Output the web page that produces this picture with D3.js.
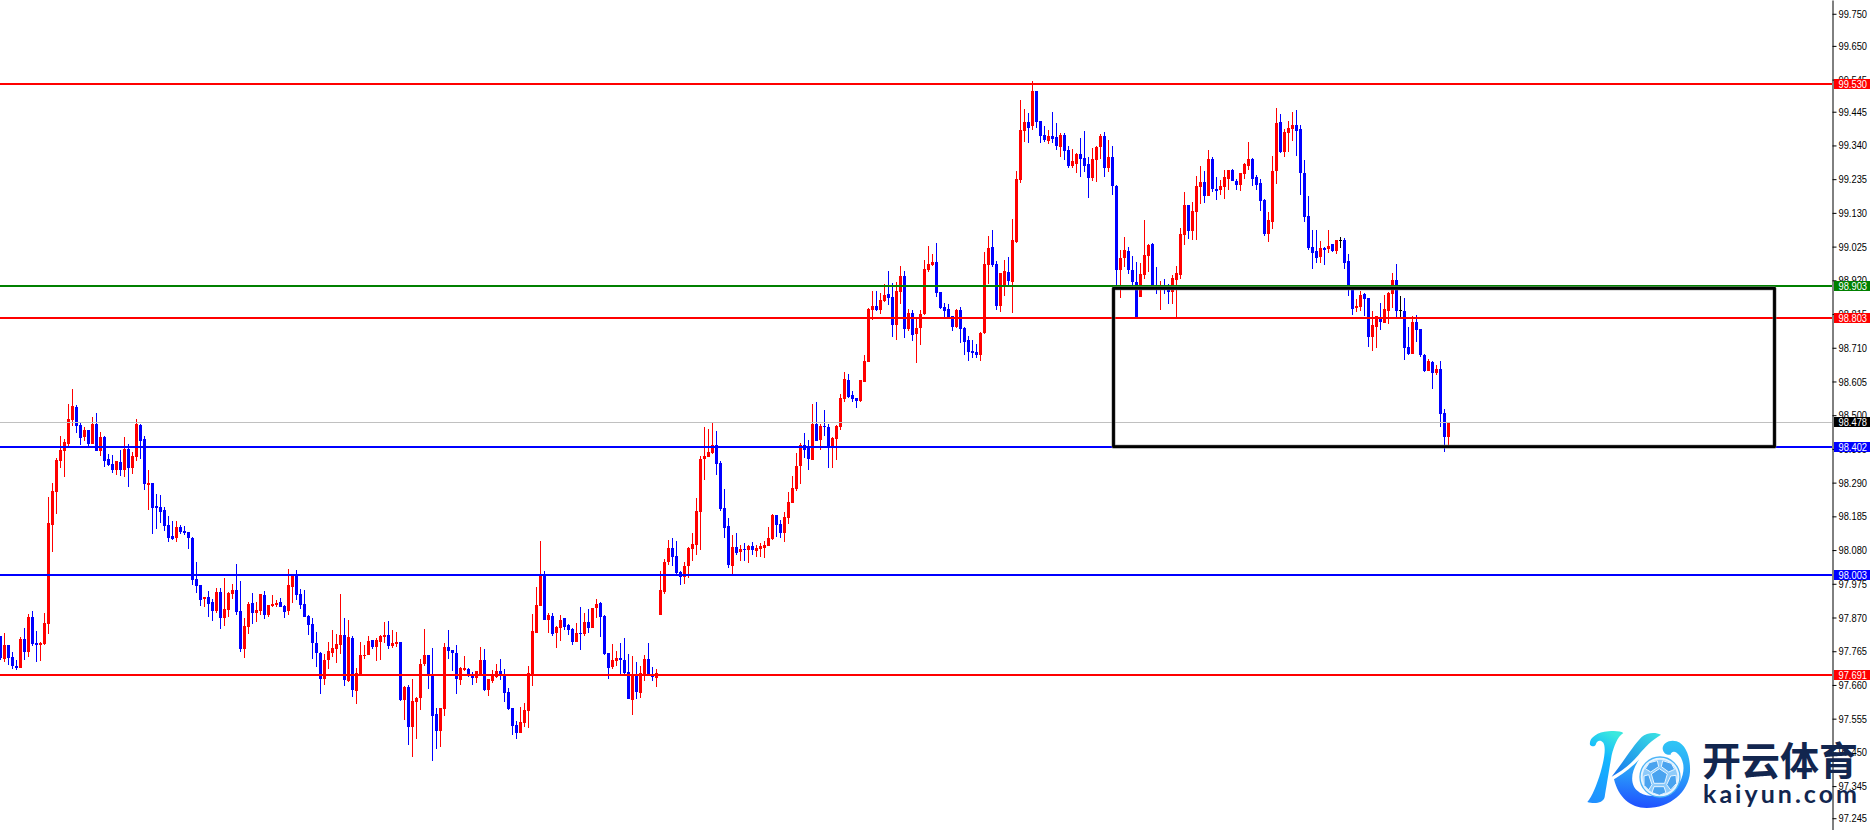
<!DOCTYPE html>
<html>
<head>
<meta charset="utf-8">
<script src="https://cdn.jsdelivr.net/npm/d3@7"></script>
<style>
    html, body { margin: 0; padding: 0; background: #fff; overflow: hidden; }
    svg { display: block; }
</style>
</head>
<body>
<svg width="1872" height="830"></svg>
<script>
//// CANDLESTICK CHART WITH PRICE LEVELS ////

var opens = [
97.811,97.740,97.785,97.747,97.719,97.714,97.803,97.763,97.872,97.791,
97.785,97.788,97.850,98.158,98.261,98.358,98.389,98.411,98.485,98.526,
98.470,98.432,98.454,98.411,98.473,98.389,98.432,98.364,98.348,98.330,
98.355,98.330,98.395,98.336,98.370,98.470,98.426,98.283,98.289,98.218,
98.214,98.205,98.158,98.124,98.118,98.152,98.140,98.137,98.119,97.990,
97.971,97.928,97.934,97.919,97.891,97.950,97.869,97.894,97.943,97.956,
97.891,97.772,97.841,97.915,97.884,97.891,97.940,97.878,97.906,97.909,
97.919,97.906,97.891,97.965,98.006,97.943,97.912,97.875,97.850,97.791,
97.760,97.679,97.738,97.760,97.773,97.785,97.816,97.673,97.807,97.642,
97.692,97.751,97.754,97.801,97.779,97.794,97.810,97.816,97.782,97.788,
97.794,97.614,97.654,97.530,97.608,97.620,97.726,97.754,97.695,97.570,
97.517,97.586,97.779,97.769,97.760,97.676,97.707,97.710,97.695,97.682,
97.695,97.738,97.645,97.673,97.685,97.704,97.695,97.639,97.589,97.536,
97.511,97.542,97.580,97.692,97.822,97.906,98.003,97.863,97.875,97.822,
97.838,97.869,97.847,97.835,97.794,97.822,97.819,97.857,97.838,97.900,
97.916,97.875,97.760,97.717,97.735,97.745,97.738,97.701,97.614,97.692,
97.636,97.692,97.741,97.692,97.682,97.878,97.950,98.043,98.087,98.062,
98.012,97.997,98.031,98.084,98.096,98.199,98.364,98.370,98.383,98.408,
98.352,98.211,98.155,98.031,98.090,98.074,98.084,98.081,98.093,98.078,
98.084,98.087,98.093,98.115,98.190,98.162,98.134,98.180,98.227,98.271,
98.342,98.408,98.404,98.361,98.473,98.423,98.467,98.464,98.401,98.426,
98.464,98.551,98.610,98.563,98.554,98.545,98.604,98.666,98.828,98.840,
98.828,98.856,98.878,98.868,98.781,98.884,98.934,98.769,98.819,98.753,
98.772,98.815,98.952,98.968,98.977,98.884,98.837,98.831,98.809,98.775,
98.828,98.772,98.734,98.700,98.697,98.688,98.756,98.968,99.024,98.971,
98.841,98.903,98.947,98.916,99.040,99.233,99.386,99.414,99.399,99.511,
99.417,99.374,99.355,99.370,99.367,99.336,99.374,99.327,99.277,99.283,
99.314,99.302,99.283,99.240,99.296,99.336,99.370,99.271,99.305,99.215,
98.953,98.991,99.012,98.953,98.916,98.869,98.938,98.997,99.034,98.903,
98.891,98.897,98.891,98.885,98.922,98.938,99.061,99.155,99.074,99.133,
99.211,99.227,99.183,99.298,99.205,99.202,99.211,99.236,99.264,99.230,
99.217,99.251,99.276,99.298,99.242,99.223,99.170,99.065,99.102,99.261,
99.413,99.320,99.379,99.392,99.404,99.392,99.255,99.121,99.024,99.012,
98.993,99.021,99.018,99.033,99.012,99.044,99.046,98.981,98.893,98.834,
98.837,98.878,98.865,98.744,98.775,98.800,98.787,98.825,98.878,98.921,
98.827,98.825,98.713,98.691,98.791,98.769,98.688,98.638,98.666,98.632,
98.644,98.507,98.432];

var highs = [
97.813,97.821,97.785,97.763,97.738,97.810,97.838,97.881,97.891,97.828,
97.794,97.884,98.246,98.289,98.367,98.435,98.426,98.535,98.582,98.532,
98.479,98.464,98.454,98.495,98.507,98.448,98.435,98.379,98.376,98.358,
98.392,98.432,98.411,98.386,98.488,98.473,98.435,98.330,98.289,98.255,
98.252,98.214,98.186,98.171,98.171,98.158,98.155,98.137,98.122,98.043,
97.971,97.934,97.953,97.928,97.962,97.962,97.993,97.950,97.975,98.037,
97.984,97.869,97.919,97.947,97.919,97.943,97.953,97.909,97.940,97.925,
97.931,97.909,98.021,98.006,98.018,97.959,97.956,97.878,97.869,97.825,
97.763,97.757,97.794,97.832,97.819,97.944,97.869,97.863,97.813,97.713,
97.794,97.785,97.813,97.801,97.807,97.816,97.857,97.860,97.832,97.826,
97.794,97.657,97.660,97.679,97.623,97.741,97.835,97.754,97.776,97.589,
97.589,97.791,97.832,97.769,97.785,97.717,97.751,97.713,97.701,97.704,
97.779,97.773,97.679,97.707,97.726,97.741,97.710,97.651,97.589,97.548,
97.592,97.604,97.720,97.882,97.966,98.109,98.015,97.885,97.885,97.844,
97.878,97.869,97.850,97.838,97.854,97.903,97.885,97.897,97.900,97.928,
97.919,97.878,97.760,97.788,97.766,97.791,97.807,97.757,97.751,97.732,
97.720,97.754,97.791,97.717,97.710,98.015,98.053,98.112,98.118,98.109,
98.015,98.043,98.090,98.134,98.243,98.373,98.464,98.457,98.476,98.451,
98.358,98.271,98.180,98.127,98.134,98.096,98.102,98.096,98.106,98.096,
98.102,98.109,98.152,98.193,98.190,98.174,98.199,98.261,98.311,98.383,
98.414,98.445,98.423,98.535,98.541,98.473,98.517,98.473,98.433,98.470,
98.566,98.635,98.629,98.576,98.554,98.610,98.688,98.834,98.887,98.887,
98.881,98.908,98.949,98.912,98.915,98.965,98.949,98.831,98.828,98.803,
98.828,98.984,99.027,99.002,99.037,98.884,98.850,98.847,98.809,98.831,
98.837,98.775,98.747,98.734,98.722,98.759,99.008,99.058,99.077,98.980,
98.943,98.984,98.994,99.112,99.261,99.483,99.455,99.442,99.542,99.511,
99.417,99.399,99.389,99.445,99.411,99.380,99.380,99.339,99.330,99.318,
99.364,99.386,99.305,99.333,99.339,99.377,99.383,99.358,99.339,99.218,
99.015,99.056,99.025,98.997,98.978,98.975,99.109,99.034,99.037,98.963,
98.919,98.925,98.910,98.938,98.966,99.084,99.195,99.155,99.164,99.245,
99.276,99.261,99.326,99.304,99.242,99.233,99.264,99.264,99.267,99.236,
99.255,99.286,99.351,99.301,99.248,99.236,99.174,99.133,99.307,99.457,
99.438,99.392,99.416,99.444,99.451,99.404,99.295,99.183,99.077,99.077,
99.043,99.024,99.077,99.033,99.046,99.055,99.052,99.002,98.893,98.862,
98.887,98.881,98.865,98.825,98.809,98.850,98.875,98.884,98.943,98.971,
98.872,98.865,98.775,98.809,98.812,98.769,98.691,98.675,98.669,98.657,
98.669,98.520,98.479];

var lows = [
97.738,97.733,97.722,97.711,97.708,97.714,97.738,97.748,97.782,97.730,
97.735,97.785,97.819,98.074,98.193,98.336,98.308,98.404,98.467,98.445,
98.407,98.420,98.401,98.411,98.389,98.373,98.339,98.342,98.320,98.314,
98.311,98.308,98.277,98.317,98.358,98.364,98.267,98.205,98.130,98.146,
98.165,98.140,98.105,98.112,98.105,98.130,98.127,98.084,97.971,97.947,
97.906,97.903,97.872,97.859,97.884,97.834,97.844,97.872,97.928,97.878,
97.763,97.744,97.819,97.850,97.856,97.878,97.866,97.872,97.903,97.903,
97.903,97.869,97.878,97.915,97.925,97.897,97.872,97.816,97.741,97.716,
97.632,97.660,97.710,97.748,97.729,97.757,97.657,97.670,97.623,97.601,
97.692,97.741,97.754,97.773,97.735,97.738,97.791,97.773,97.776,97.779,
97.611,97.551,97.474,97.436,97.492,97.583,97.720,97.648,97.424,97.461,
97.467,97.564,97.741,97.704,97.632,97.660,97.704,97.685,97.660,97.667,
97.692,97.642,97.626,97.667,97.682,97.676,97.608,97.583,97.505,97.492,
97.511,97.530,97.527,97.657,97.822,97.906,97.863,97.822,97.813,97.776,
97.797,97.832,97.816,97.785,97.794,97.769,97.813,97.822,97.838,97.867,
97.810,97.754,97.679,97.710,97.720,97.695,97.695,97.617,97.567,97.617,
97.620,97.673,97.692,97.673,97.654,97.878,97.944,98.034,98.031,98.006,
97.972,97.975,97.993,98.046,98.065,98.081,98.299,98.369,98.380,98.314,
98.202,98.118,98.025,98.006,98.065,98.046,98.046,98.040,98.065,98.059,
98.059,98.056,98.093,98.112,98.121,98.118,98.106,98.162,98.227,98.264,
98.286,98.367,98.330,98.361,98.420,98.392,98.436,98.336,98.336,98.361,
98.454,98.541,98.554,98.541,98.523,98.541,98.604,98.666,98.797,98.825,
98.815,98.853,98.843,98.744,98.734,98.847,98.741,98.762,98.731,98.663,
98.719,98.812,98.946,98.965,98.868,98.831,98.803,98.803,98.762,98.772,
98.725,98.688,98.669,98.678,98.678,98.669,98.753,98.909,98.962,98.828,
98.822,98.872,98.903,98.819,99.037,99.224,99.352,99.349,99.389,99.395,
99.349,99.352,99.346,99.349,99.327,99.305,99.296,99.271,99.271,99.255,
99.243,99.258,99.177,99.230,99.227,99.299,99.243,99.258,99.187,98.903,
98.866,98.963,98.941,98.903,98.807,98.869,98.925,98.947,98.903,98.878,
98.829,98.878,98.847,98.847,98.807,98.925,99.030,99.049,99.046,99.046,
99.158,99.161,99.183,99.195,99.170,99.186,99.174,99.202,99.230,99.202,
99.198,99.236,99.264,99.214,99.202,99.136,99.058,99.040,99.080,99.220,
99.317,99.304,99.320,99.354,99.307,99.186,99.102,99.015,98.956,98.974,
98.974,98.968,99.005,99.009,99.002,99.021,98.956,98.872,98.812,98.822,
98.825,98.809,98.713,98.700,98.710,98.766,98.787,98.784,98.834,98.806,
98.806,98.672,98.688,98.691,98.728,98.682,98.635,98.638,98.582,98.625,
98.464,98.386,98.401];

var closes = [
97.743,97.785,97.745,97.720,97.713,97.803,97.764,97.872,97.788,97.785,
97.791,97.853,98.165,98.264,98.361,98.392,98.417,98.488,98.529,98.467,
98.429,98.454,98.411,98.473,98.389,98.432,98.358,98.345,98.330,98.358,
98.330,98.395,98.336,98.373,98.473,98.420,98.286,98.289,98.211,98.211,
98.199,98.155,98.118,98.115,98.152,98.137,98.133,98.118,97.987,97.968,
97.925,97.934,97.912,97.891,97.950,97.869,97.897,97.947,97.956,97.887,
97.772,97.844,97.912,97.884,97.894,97.943,97.878,97.909,97.912,97.915,
97.903,97.887,97.971,98.003,97.940,97.909,97.872,97.847,97.791,97.760,
97.679,97.738,97.766,97.776,97.788,97.816,97.676,97.810,97.645,97.698,
97.754,97.754,97.797,97.779,97.801,97.813,97.816,97.782,97.791,97.794,
97.614,97.654,97.530,97.611,97.620,97.726,97.754,97.695,97.564,97.517,
97.589,97.779,97.766,97.760,97.679,97.713,97.713,97.692,97.682,97.704,
97.738,97.645,97.679,97.695,97.704,97.692,97.636,97.586,97.533,97.511,
97.545,97.583,97.698,97.829,97.910,98.003,97.863,97.878,97.819,97.841,
97.863,97.841,97.832,97.794,97.822,97.819,97.857,97.838,97.900,97.913,
97.872,97.757,97.713,97.738,97.745,97.738,97.698,97.617,97.695,97.639,
97.698,97.741,97.692,97.685,97.698,97.956,98.043,98.087,98.059,98.009,
97.997,98.031,98.087,98.099,98.202,98.364,98.373,98.386,98.408,98.348,
98.208,98.149,98.034,98.090,98.071,98.084,98.081,98.093,98.081,98.087,
98.093,98.096,98.118,98.190,98.158,98.134,98.183,98.230,98.274,98.342,
98.408,98.392,98.364,98.473,98.420,98.467,98.464,98.401,98.429,98.467,
98.554,98.613,98.557,98.551,98.545,98.610,98.669,98.831,98.840,98.828,
98.859,98.875,98.865,98.781,98.887,98.934,98.769,98.819,98.750,98.772,
98.815,98.956,98.971,98.977,98.881,98.834,98.825,98.806,98.775,98.828,
98.769,98.728,98.697,98.694,98.688,98.756,98.971,99.021,98.968,98.840,
98.943,98.950,98.919,99.044,99.237,99.389,99.414,99.395,99.511,99.414,
99.370,99.358,99.370,99.361,99.339,99.374,99.324,99.277,99.290,99.314,
99.299,99.277,99.240,99.299,99.336,99.370,99.271,99.305,99.215,98.953,
98.991,99.015,98.953,98.916,98.807,98.941,99.000,99.031,98.903,98.891,
98.897,98.891,98.885,98.928,98.944,99.065,99.155,99.074,99.136,99.214,
99.227,99.183,99.298,99.205,99.198,99.214,99.242,99.264,99.230,99.217,
99.255,99.283,99.298,99.236,99.217,99.167,99.065,99.108,99.261,99.410,
99.320,99.382,99.395,99.404,99.385,99.255,99.118,99.021,99.005,98.990,
99.021,99.015,99.027,99.012,99.046,99.044,98.974,98.890,98.831,98.840,
98.875,98.862,98.744,98.781,98.809,98.791,98.831,98.881,98.921,98.825,
98.827,98.710,98.691,98.791,98.766,98.688,98.638,98.669,98.632,98.644,
98.504,98.432,98.479];

var tickLabels = [
99.750,99.650,99.545,99.445,99.340,99.235,99.130,99.025,98.920,98.815,
98.710,98.605,98.500,98.395,98.290,98.185,98.080,97.975,97.870,97.765,
97.660,97.555,97.450,97.345,97.245];

var levelPrices = [99.530, 98.903, 98.803, 98.402, 98.003, 97.691];
var levelColors = ["#ff0000", "#008000", "#ff0000", "#0000ff", "#0000ff", "#ff0000"];
var bidPrice = 98.478;
var boxPrices = [98.895, 98.402];
var boxBars = [278.25, 443.5];

var svg = d3.select("svg"),
    width = 1832,
    height = 830;

// price and bar scales, 4px per bar
var x = d3.scaleLinear().domain([0, 100]).range([0.5, 400.5]),
    y = d3.scaleLinear().domain([99.7929, 97.2083]).range([0, height]);

function barColor(i) {
    if (closes[i] > opens[i]) return "#ff0000";
    if (closes[i] < opens[i]) return "#0000ff";
    return "#000000";
}

var idx = d3.range(opens.length);

// wicks
svg.append("g").selectAll("rect")
    .data(idx)
    .enter().append("rect")
    .attr("x", function (i) { return x(i) - 0.5; })
    .attr("width", 1)
    .attr("y", function (i) { return Math.round(y(highs[i])); })
    .attr("height", function (i) { return Math.max(1, Math.round(y(lows[i])) - Math.round(y(highs[i]))); })
    .attr("fill", barColor);

// bodies
svg.append("g").selectAll("rect")
    .data(idx)
    .enter().append("rect")
    .attr("x", function (i) { return x(i) - 1.5; })
    .attr("width", 3)
    .attr("y", function (i) { return Math.round(y(Math.max(opens[i], closes[i]))); })
    .attr("height", function (i) {
        var t = Math.round(y(Math.max(opens[i], closes[i]))),
            b = Math.round(y(Math.min(opens[i], closes[i])));
        return Math.max(1, b - t);
    })
    .attr("fill", barColor);

// bid line
svg.append("line")
    .attr("x1", 0).attr("x2", width)
    .attr("y1", Math.round(y(bidPrice)) + 0.5).attr("y2", Math.round(y(bidPrice)) + 0.5)
    .attr("stroke", "#c0c0c0").attr("stroke-width", 1);

// horizontal levels
svg.append("g").selectAll("line")
    .data(levelPrices)
    .enter().append("line")
    .attr("x1", 0).attr("x2", width)
    .attr("y1", function (d) { return Math.round(y(d)); })
    .attr("y2", function (d) { return Math.round(y(d)); })
    .attr("stroke", function (d, i) { return levelColors[i]; })
    .attr("stroke-width", 2);

// black box, soft edge then the solid line
[["#808080", 3.8], ["#000000", 2.8]].forEach(function (s) {
    svg.append("rect")
        .attr("x", x(boxBars[0]))
        .attr("y", y(boxPrices[0]))
        .attr("width", x(boxBars[1]) - x(boxBars[0]))
        .attr("height", y(boxPrices[1]) - y(boxPrices[0]))
        .attr("fill", "none")
        .attr("stroke", s[0])
        .attr("stroke-width", s[1])
        .attr("stroke-linejoin", "round");
});

// right price axis
var axis = svg.append("g")
    .attr("transform", "translate(" + (width + 0.5) + ",0)")
    .call(d3.axisRight(y).tickValues(tickLabels).tickFormat(d3.format(".3f")).tickSize(4).tickSizeOuter(0).tickPadding(2));
axis.select(".domain").attr("stroke", "#000");
axis.selectAll("text")
    .attr("font-family", "'Liberation Sans', Arial, sans-serif")
    .attr("font-size", 11)
    .attr("textLength", 28.5)
    .attr("lengthAdjust", "spacingAndGlyphs")
    .attr("fill", "#000");

// price tags
var tagPrices = levelPrices.concat([bidPrice]),
    tagColors = levelColors.concat(["#000000"]);
var tags = svg.append("g").selectAll("g")
    .data(tagPrices)
    .enter().append("g")
    .attr("transform", function (d) { return "translate(1834," + Math.round(y(d)) + ")"; });
tags.append("rect")
    .attr("x", 0).attr("y", -5).attr("width", 36).attr("height", 10)
    .attr("fill", function (d, i) { return tagColors[i]; });
tags.append("text")
    .attr("x", 4.5).attr("y", 4)
    .attr("font-family", "'Liberation Sans', Arial, sans-serif")
    .attr("font-size", 11)
    .attr("textLength", 28.5)
    .attr("lengthAdjust", "spacingAndGlyphs")
    .attr("fill", "#fff")
    .text(function (d) { return d.toFixed(3); });

// watermark logo
var defs = svg.append("defs");
function grad(id, x1, y1, x2, y2, stops) {
    var g = defs.append("linearGradient").attr("id", id)
        .attr("x1", x1).attr("y1", y1).attr("x2", x2).attr("y2", y2);
    stops.forEach(function (s) { g.append("stop").attr("offset", s[0]).attr("stop-color", s[1]); });
}
grad("kLeft", 0.6, 0, 0.3, 1, [[0, "#3be8de"], [0.35, "#12b8ff"], [1, "#2090ff"]]);
grad("kArm", 1, 0, 0, 1, [[0, "#3be4e2"], [1, "#1570f0"]]);
grad("kSwoosh", 0.5, 0, 0.4, 1, [[0, "#2fc4f5"], [0.5, "#2a9cfa"], [1, "#1f50ff"]]);

var logo = svg.append("g").attr("transform", "translate(1580,722) scale(0.3333)");
logo.append("path").attr("fill", "url(#kLeft)")
    .attr("d", "M30 68 C26 50 50 30 85 28 C108 26 122 28 130 33 C112 45 102 72 95 100 C88 140 78 200 74 225 C70 245 40 246 22 240 C36 225 50 190 62 150 C74 108 78 76 70 62 C62 52 50 55 48 66 C46 74 36 76 30 68 Z");
logo.append("path").attr("fill", "url(#kArm)")
    .attr("d", "M95 164 C130 120 160 70 185 45 C200 32 225 30 243 38 C215 55 195 75 175 100 C150 130 120 150 95 164 Z");
logo.append("path").attr("fill", "url(#kSwoosh)")
    .attr("d", "M102 172 C128 156 160 132 178 112 C150 150 148 195 180 212 C215 232 275 222 300 180 C318 145 312 108 290 92 C280 86 272 92 272 98 C262 100 250 95 248 80 C248 62 270 52 290 58 C320 68 332 110 330 150 C326 210 270 258 200 258 C150 258 115 225 102 172 Z");
logo.append("circle").attr("cx", 240).attr("cy", 165).attr("r", 60)
    .attr("fill", "#e6f4ff").attr("stroke", "#4db4f7").attr("stroke-width", 4);
logo.append("circle").attr("cx", 240).attr("cy", 165).attr("r", 52)
    .attr("fill", "#8ecbfa");
[
    "M238 140 L262 156 L254 184 L222 184 L214 156 Z",
    "M208 122 L232 116 L236 134 L212 150 L196 140 Z",
    "M248 116 L274 124 L284 142 L266 150 L244 134 Z",
    "M192 162 L206 158 L216 188 L206 204 L192 190 Z",
    "M272 162 L288 160 L290 184 L272 204 L260 188 Z",
    "M222 194 L252 194 L258 212 L238 220 L216 212 Z"
].forEach(function (d) {
    logo.append("path").attr("d", d).attr("fill", "#4aa3ef").attr("stroke", "#e8f5ff").attr("stroke-width", 3);
});

svg.append("text")
    .attr("x", 1702).attr("y", 775)
    .attr("font-family", "'Noto Sans CJK SC', sans-serif")
    .attr("font-weight", 700)
    .attr("font-size", 39)
    .attr("fill", "#12264f")
    .text("开云体育");
svg.append("text")
    .attr("x", 1703).attr("y", 803)
    .attr("font-family", "Lato, 'Noto Sans', sans-serif")
    .attr("font-weight", 700)
    .attr("font-size", 25)
    .attr("textLength", 154)
    .attr("fill", "#12264f")
    .text("kaiyun.com");
</script>
</body>
</html>
